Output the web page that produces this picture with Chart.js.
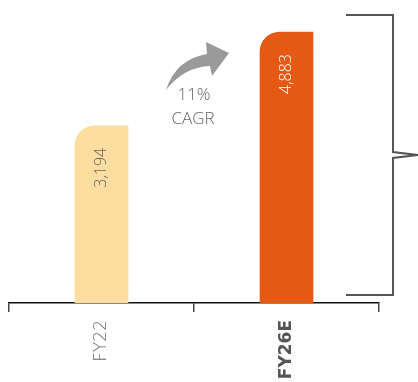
<!DOCTYPE html>
<html>
<head>
<meta charset="utf-8">
<script src="https://cdn.jsdelivr.net/npm/chart.js@4"></script>
<style>
  html, body { margin: 0; padding: 0; background: #fff; }
  #wrap { width: 418px; height: 382px; position: relative; }
</style>
</head>
<body>
<div id="wrap"><canvas id="c" width="418" height="382"></canvas></div>
<script>
const categories = ['FY22', 'FY26E'];
const values = [3194, 4883];
const valueLabels = ['3,194', '4,883'];
const barColors = ['#FDDDA0', '#E65914'];
const labelColors = ['#666666', '#ffffff'];
const cagrLines = ['11%', 'CAGR'];

const FONT = '"Open Sans", "DejaVu Sans", sans-serif';
const WIDE = '"DejaVu Sans", sans-serif';

const overlay = {
  id: 'overlay',
  afterDatasetsDraw(chart) {
    const ctx = chart.ctx;
    const meta = chart.getDatasetMeta(0);
    meta.data.forEach((bar, i) => {
      ctx.save();
      ctx.translate(bar.x, bar.y + 22);
      ctx.rotate(-Math.PI / 2);
      ctx.font = '300 16px ' + FONT;
      ctx.fillStyle = labelColors[i];
      ctx.textAlign = 'right';
      ctx.textBaseline = 'middle';
      ctx.fillText(valueLabels[i], 0, 0);
      ctx.restore();
    });

    ctx.save();
    ctx.fillStyle = '#9a9a9a';
    ctx.beginPath();
    ctx.moveTo(166, 90);
    ctx.quadraticCurveTo(176, 59, 207, 54);
    ctx.lineTo(206, 42);
    ctx.lineTo(229, 53);
    ctx.lineTo(212, 76);
    ctx.lineTo(210, 66);
    ctx.quadraticCurveTo(184, 67, 166, 90);
    ctx.closePath();
    ctx.fill();

    ctx.font = '300 17px ' + FONT;
    ctx.fillStyle = '#666666';
    ctx.textAlign = 'center';
    ctx.textBaseline = 'middle';
    ctx.fillText(cagrLines[0], 194, 95);
    ctx.fillText(cagrLines[1], 193, 119);
    ctx.restore();

    ctx.save();
    ctx.strokeStyle = '#555555';
    ctx.lineWidth = 2;
    ctx.lineJoin = 'miter';
    ctx.beginPath();
    ctx.moveTo(346, 15);
    ctx.lineTo(393, 15);
    ctx.lineTo(393, 152);
    ctx.lineTo(418, 155);
    ctx.lineTo(393, 158);
    ctx.lineTo(393, 295);
    ctx.lineTo(346, 295);
    ctx.stroke();
    ctx.restore();
  }
};

new Chart(document.getElementById('c'), {
  type: 'bar',
  data: {
    labels: categories,
    datasets: [{
      data: values,
      backgroundColor: barColors,
      borderWidth: 0,
      borderRadius: { topLeft: 20, topRight: 0, bottomLeft: 0, bottomRight: 0 },
      borderSkipped: false,
      barThickness: 53
    }]
  },
  options: {
    responsive: false,
    animation: false,
    devicePixelRatio: 1,
    layout: { padding: { left: 9, right: 39, top: 0, bottom: 0 } },
    plugins: { legend: { display: false }, tooltip: { enabled: false } },
    scales: {
      y: { display: false, min: 0, max: 5460 },
      x: {
        afterFit(scale) { scale.height = 79; },
        border: { display: true, color: '#111111', width: 1.5 },
        grid: { display: true, drawOnChartArea: false, drawTicks: true, tickLength: 9, color: '#444444', lineWidth: 1.5, offset: true },
        ticks: {
          minRotation: 90, maxRotation: 90, padding: 8,
          color: (c) => c.index === 1 ? '#555555' : '#666666',
          font: (c) => ({ family: WIDE, size: 17, weight: c.index === 1 ? 'bold' : '200' })
        }
      }
    }
  },
  plugins: [overlay]
});
</script>
</body>
</html>
